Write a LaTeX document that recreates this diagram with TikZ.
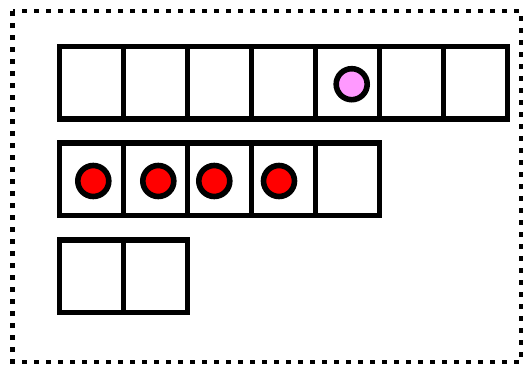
\documentclass[tikz,border=0pt]{standalone}
\definecolor{pinkfill}{RGB}{255,153,255}
\tikzset{
  cell/.style={draw=black, line width=5.6pt, minimum width=64pt, minimum height=72.5pt, inner sep=0pt, outer sep=0pt},
  token/.style={circle, draw=black, line width=5.6pt, minimum size=31pt, inner sep=0pt},
  frame/.style={draw=black, line width=4.6pt, dash pattern=on 4.8pt off 7.2pt, dash phase=2.4pt}
}
\begin{document}
\begin{tikzpicture}[x=1pt,y=1pt]
\useasboundingbox (0,0) rectangle (525,365);
\draw[frame] (12.5,353.8) -- (521,353.8) -- (521,3) -- (12.5,3) -- cycle;
% row 1
\foreach \i in {0,...,6} {
  \node[cell] (a\i) at ({91.5+64*\i},282.4) {};
}
% row 2
\foreach \i in {0,...,4} {
  \node[cell] (b\i) at ({91.5+64*\i},185.7) {};
}
% row 3
\foreach \i in {0,1} {
  \node[cell] (c\i) at ({91.5+64*\i},88.6) {};
}
\node[token, fill=pinkfill] (p) at (351.7,280.8) {};
\node[token, fill=red] (r0) at (93.3,184) {};
\node[token, fill=red] (r1) at (158.3,184) {};
\node[token, fill=red] (r2) at (214.3,184) {};
\node[token, fill=red] (r3) at (279,184) {};
\end{tikzpicture}
\end{document}
